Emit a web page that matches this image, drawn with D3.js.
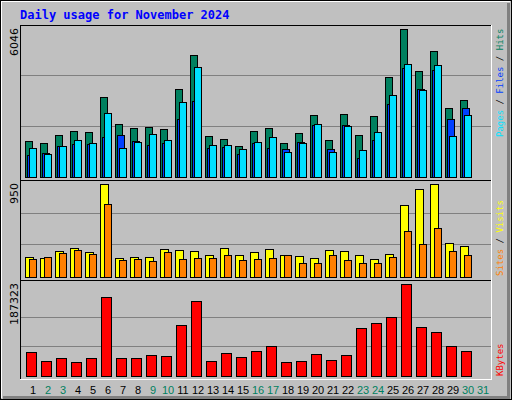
<!DOCTYPE html><html><head><meta charset="utf-8">
<script src="https://cdn.jsdelivr.net/npm/d3@7"></script>
<style>body{margin:0;background:#fff}svg{display:block}</style></head><body>
<script>
const days=d3.range(1,32);
const weekend=[2,3,9,10,16,17,23,24,30,31];
const hits=[1409,1329,1648,1807,1768,3163,2086,1927,1967,1887,3482,4837,1608,1488,1209,1807,1927,1329,1728,2445,1449,2485,1648,2405,3960,5874,4200,4997,2724,3043];
const files=[864,930,1209,1302,1302,1568,1648,1409,1249,1329,2286,3003,1130,1169,890,1329,1130,1090,1369,2047,1090,2047,731,1449,2884,4319,3482,4239,2286,2724];
const pages=[1130,890,1209,1449,1329,2525,1130,1369,1688,1449,2963,4359,1249,1249,1090,1369,1568,970,1329,2086,970,2007,1050,1768,3243,4479,3442,4439,1608,2445];
const visits=[198,188,260,290,249,950,188,198,198,280,270,260,219,290,219,249,280,219,208,188,270,260,219,178,229,731,895,950,342,311];
const sites=[178,198,239,270,229,741,167,178,157,249,178,188,188,219,167,178,188,219,137,137,219,167,137,137,198,465,331,495,260,219];
const kbytes=[47854,29400,35550,27345,35550,160650,35550,35550,41700,39650,103200,152450,29400,45800,37600,49900,60160,27345,29400,43750,31450,41700,97070,107330,119630,187323,99120,88870,60160,49900];
const maxHits=6046,maxVisits=950,maxK=187323;

const svg=d3.select("body").append("svg").attr("width",512).attr("height",400).attr("shape-rendering","crispEdges");
svg.append("rect").attr("width",512).attr("height",400).attr("fill","#c0c0c0");
svg.append("rect").attr("x",0.5).attr("y",0.5).attr("width",511).attr("height",399).attr("fill","none").attr("stroke","#000");
svg.append("path").attr("d","M1.5,398V1.5H510").attr("fill","none").attr("stroke","#fff");
svg.append("path").attr("d","M508.5,3V397.5H3").attr("fill","none").attr("stroke","#808080").attr("stroke-width",3);
svg.append("text").attr("x",20).attr("y",19).attr("font-family","DejaVu Sans Mono").attr("font-weight","bold").attr("font-size",12).attr("fill","#0000ff").text("Daily usage for November 2024");

const x=d3.scaleLinear().domain([1,2]).range([25,40]);
function panel(top,bot){
  svg.append("path").attr("d",`M20.5,${bot}V${top+0.5}H491`).attr("fill","none").attr("stroke","#000");
  svg.append("path").attr("d",`M20,${bot+0.5}H491.5V${top}`).attr("fill","none").attr("stroke","#fff");
}
function grid(y,vals){vals.forEach(v=>svg.append("line").attr("x1",21).attr("x2",491).attr("y1",Math.round(y(v))+0.5).attr("y2",Math.round(y(v))+0.5).attr("stroke","#808080"));}
function bars(data,y,off,w,color){
  svg.append("g").selectAll("rect").data(data).join("rect")
   .attr("x",(d,i)=>x(i+1)+off+0.5).attr("width",w).attr("y",d=>Math.round(y(d))+0.5)
   .attr("height",d=>y(0)-Math.round(y(d))).attr("fill",color).attr("stroke","#000");
}
function ylab(txt,yTop){svg.append("text").attr("transform",`translate(18,${yTop}) rotate(-90)`).attr("text-anchor","end").attr("font-family","DejaVu Sans").attr("font-size",11).attr("fill","#000").text(txt);}
function rlab(parts,yBot){const t=svg.append("text").attr("transform",`translate(503,${yBot}) rotate(-90)`).attr("font-family","DejaVu Sans Mono").attr("font-size",9);
  parts.forEach(p=>t.append("tspan").attr("fill",p[1]).text(p[0]));}

panel(25,180);
const y1=d3.scaleLinear().domain([0,maxHits]).range([176.5,24.8]);
grid(y1,[maxHits/3,maxHits*2/3]);
bars(hits,y1,0,7,"#00805f");
bars(files,y1,2,7,"#0040ff");
bars(pages,y1,4,7,"#00e0ff");
ylab(maxHits,28);
rlab([["Pages","#00e0ff"],[" / ","#000"],["Files","#0040ff"],[" / ","#000"],["Hits","#00805f"]],137);

panel(180,280);
const y2=d3.scaleLinear().domain([0,maxVisits]).range([276.7,184]);
grid(y2,[maxVisits/3*1.05,maxVisits*2/3*1.03]);
bars(visits,y2,0,8,"#ffff00");
bars(sites,y2,4,7,"#ff8000");
ylab(maxVisits,183);
rlab([["Sites","#ff8000"],[" / ","#000"],["Visits","#ffff00"]],276);

panel(280,379);
const y3=d3.scaleLinear().domain([0,maxK]).range([375.7,284.3]);
grid(y3,[maxK*0.32,maxK*0.64]);
bars(kbytes,y3,1,10,"#ff0000");
ylab(maxK,283);
rlab([["KBytes","#ff0000"]],376);

svg.append("g").selectAll("text").data(days).join("text").attr("x",d=>x(d)+8).attr("y",394)
 .attr("text-anchor","middle").attr("font-family","Liberation Sans").attr("font-size",11)
 .attr("fill",d=>weekend.includes(d)?"#00805f":"#000").text(d=>d);
</script></body></html>
